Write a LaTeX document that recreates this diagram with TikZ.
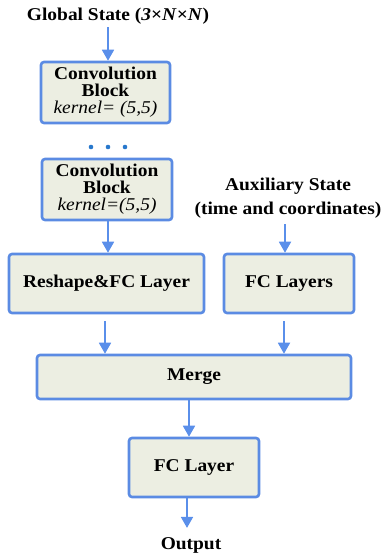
\documentclass[tikz,border=0pt]{standalone}
\usepackage{fontspec}
\setmainfont{Liberation Serif}[FakeStretch=1.08]
\usetikzlibrary{arrows.meta,calc}
\definecolor{boxfill}{HTML}{ECEEE2}
\definecolor{boxline}{HTML}{5B8BE3}
\definecolor{arrowblue}{HTML}{5A8FEA}
\definecolor{dotblue}{HTML}{2878CC}
\begin{document}
\begin{tikzpicture}[x=1pt,y=-1pt,
  font=\fontsize{18}{17}\selectfont\bfseries,
  layerbox/.style={draw=boxline, fill=boxfill, line width=2.6pt, rounded corners=3pt,
    inner sep=0pt, align=center},
  label/.style={inner sep=0pt, align=center},
  arr/.style={draw=arrowblue, line width=1.8pt,
    -{Triangle[length=11pt,width=12pt]}}]
\useasboundingbox (0,0) rectangle (386,557);

% input and auxiliary labels
\node[label] (gs) at (118,16) {Global State (\textit{3}×\textit{N}×\textit{N})};
\node[label, font=\fontsize{18}{24}\selectfont\bfseries] (aux) at (288,198)
  {Auxiliary State\\(time and coordinates)};

% convolution stack
\node[layerbox, minimum width=129pt, minimum height=61pt] (conv1) at (105.5,92.5)
  {Convolution\\Block\\\mdseries\itshape kernel= (5,5)};
\foreach \x in {91,108,125}
  \fill[dotblue] (\x,147) circle (2.3pt);
\node[layerbox, minimum width=130pt, minimum height=61pt] (conv2) at (107,189.5)
  {Convolution\\Block\\\mdseries\itshape kernel=(5,5)};

% dense layers
\node[layerbox, minimum width=195pt, minimum height=59pt] (reshape) at (106.5,283.5)
  {Reshape\&FC Layer};
\node[layerbox, minimum width=130pt, minimum height=59pt] (fcs) at (289,283.5)
  {FC Layers};
\node[layerbox, minimum width=314pt, minimum height=44pt] (merge) at (194,377)
  {Merge};
\node[layerbox, minimum width=130pt, minimum height=59pt] (fc) at (194,467.5)
  {FC Layer};
\node[label] (out) at (191,545) {Output};

% arrow columns
\coordinate (c1) at (108,0);
\coordinate (c2) at (285,0);
\coordinate (c3) at (105,0);
\coordinate (c4) at (284,0);
\coordinate (c5) at (189,0);
\coordinate (c6) at (187,0);

% connectors
\draw[arr, shorten <=3pt] (gs.south -| c1) -- (conv1.north -| c1);
\draw[arr] (conv2.south -| c1) -- (reshape.north -| c1);
\draw[arr, shorten <=6pt] (aux.south -| c2) -- (fcs.north -| c2);
\draw[arr, shorten <=7pt] (reshape.south -| c3) -- (merge.north -| c3);
\draw[arr, shorten <=7pt] (fcs.south -| c4) -- (merge.north -| c4);
\draw[arr] (merge.south -| c5) -- (fc.north -| c5);
\draw[arr, shorten >=9pt] (fc.south -| c6) -- (out.north -| c6);
\end{tikzpicture}
\end{document}
